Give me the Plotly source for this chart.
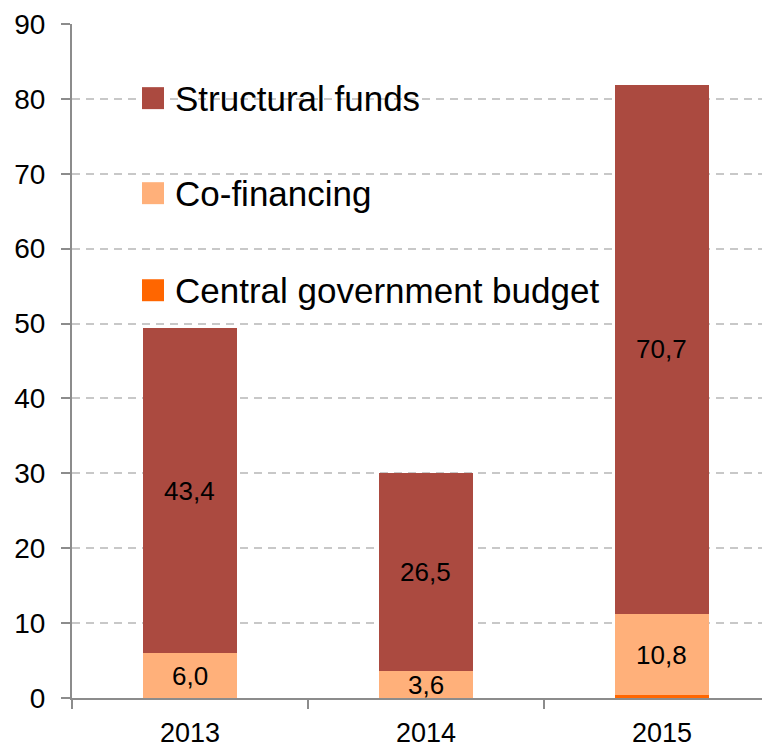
import plotly.graph_objects as go

years = ["2013", "2014", "2015"]
central_budget = [0.0, 0.0, 0.4]
co_financing = [6.0, 3.6, 10.8]
structural_funds = [43.4, 26.5, 70.7]
series_names = ["Central government budget", "Co-financing", "Structural funds"]
colors = ["#FF6600", "#FFB07A", "#AB4A40"]
y_ticks = [0, 10, 20, 30, 40, 50, 60, 70, 80, 90]

FONT = "Liberation Sans, Arial, sans-serif"

fig = go.Figure()
series = [central_budget, co_financing, structural_funds]
for name, vals, col in zip(series_names, series, colors):
    fig.add_trace(go.Bar(x=years, y=vals, name=name, marker_color=col,
                         marker_line_width=0, width=0.40, showlegend=False))

# data labels for co-financing and structural funds
annotations = []
for i, yr in enumerate(years):
    base = central_budget[i]
    for vals in (co_financing, structural_funds):
        v = vals[i]
        annotations.append(dict(x=i, y=base + v / 2, xref="x", yref="y",
                                text=f"{v:.1f}".replace(".", ","), showarrow=False,
                                font=dict(family=FONT, size=26, color="black")))
        base += v

# legend drawn as squares + text (top to bottom: Structural funds, Co-financing, Central)
legend_y = [0.890, 0.749, 0.605]
shapes = []
for name, col, yc in zip(series_names[::-1], colors[::-1], legend_y):
    shapes.append(dict(type="rect", xref="paper", yref="paper",
                       x0=0.1003, x1=0.1318, y0=yc - 0.0163, y1=yc + 0.0163,
                       fillcolor=col, line_width=0, layer="above"))
    annotations.append(dict(x=0.1447, y=yc, xref="paper", yref="paper",
                            xanchor="left", yanchor="middle", text=name, showarrow=False,
                            font=dict(family=FONT, size=35, color="black")))

fig.update_layout(
    width=762, height=742,
    margin=dict(l=64, r=0, t=16, b=52, pad=0),
    plot_bgcolor="white", paper_bgcolor="white",
    barmode="stack", bargap=0.6,
    font=dict(family=FONT, size=27, color="black"),
    annotations=annotations, shapes=shapes,
    xaxis=dict(type="category", range=[-0.5, 2.458], showline=True, linecolor="#8c8c8c", linewidth=2,
               ticks="outside", tickson="boundaries", ticklen=9, tickcolor="#8c8c8c",
               tickwidth=2, showgrid=False, ticklabelstandoff=10,
               tickfont=dict(family=FONT, size=27, color="black")),
    yaxis=dict(range=[0, 90], tickvals=y_ticks, showline=True, linecolor="#8c8c8c",
               linewidth=2, ticks="outside", ticklen=9, tickcolor="#8c8c8c", tickwidth=2,
               showgrid=True, gridcolor="#c8c8c8", gridwidth=1.5, griddash="8px,6px",
               zeroline=False, ticklabelstandoff=10,
               tickfont=dict(family=FONT, size=28, color="black")),
)

fig.write_html("out.html")
